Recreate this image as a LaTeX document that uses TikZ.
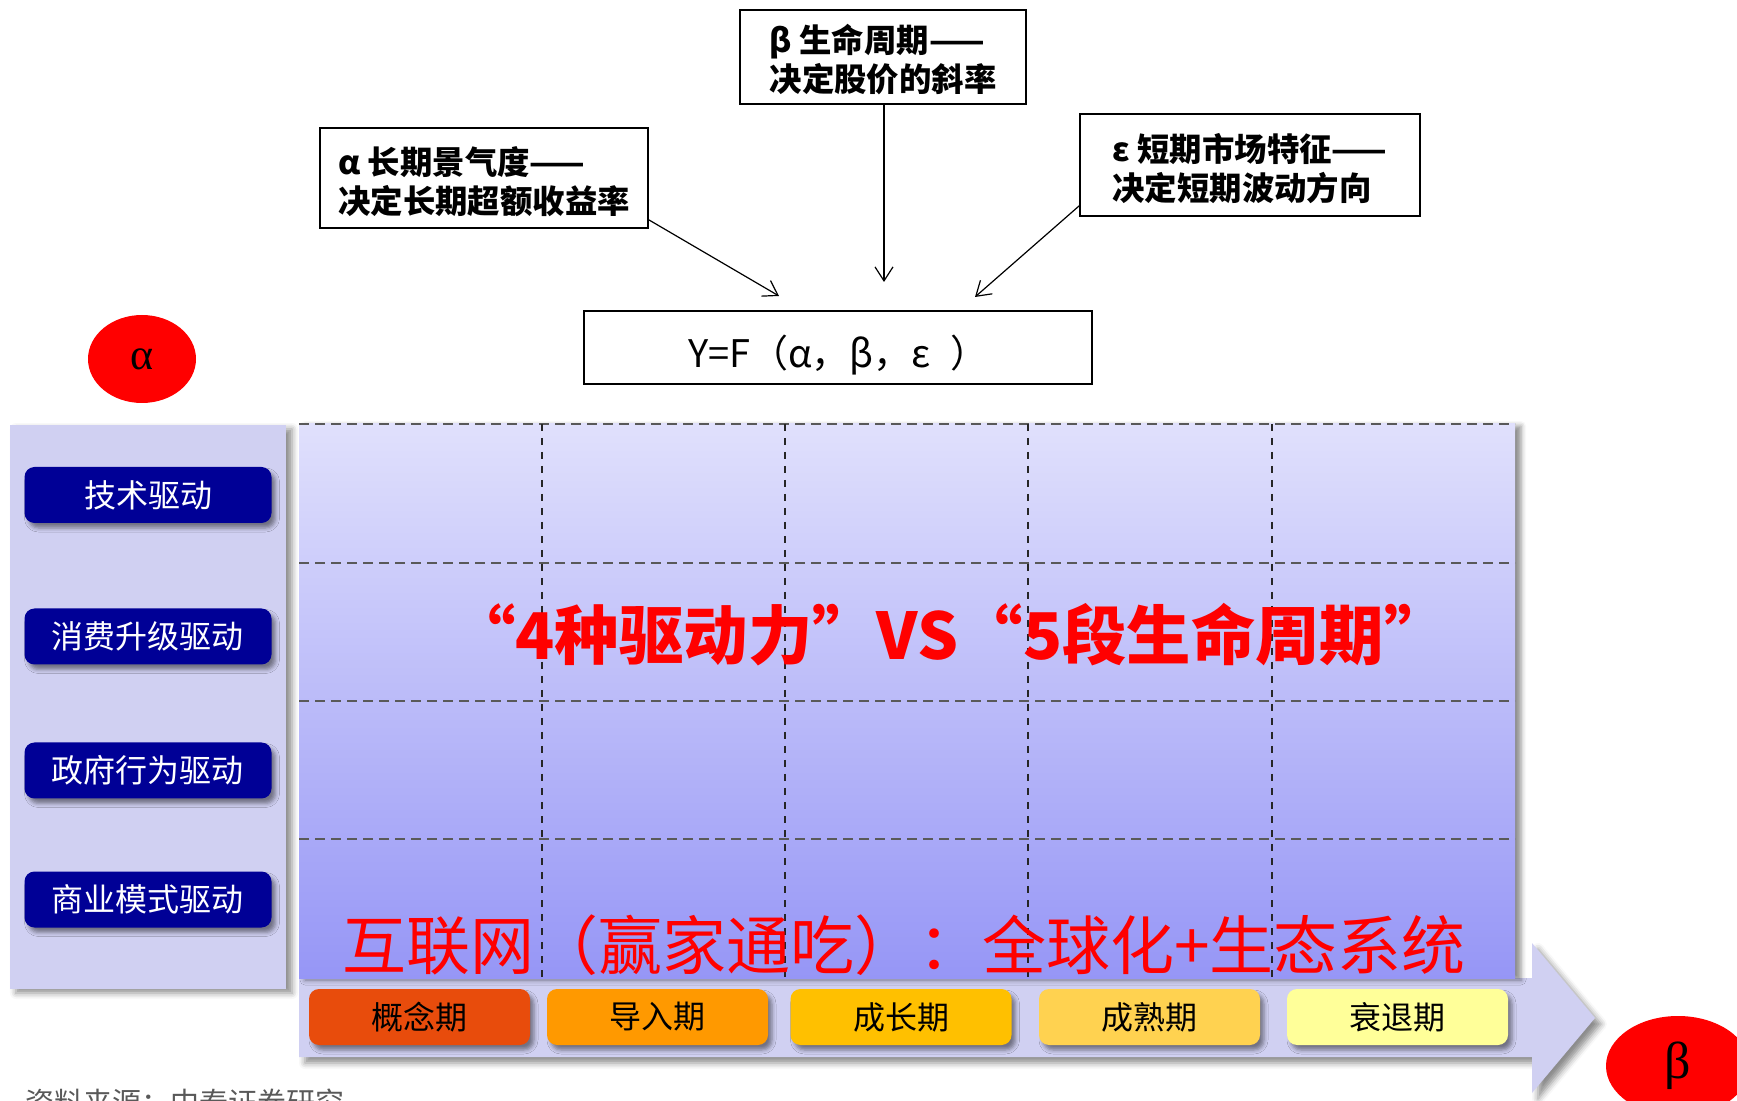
\documentclass[tikz,border=0pt]{standalone}
\usepackage{fontspec}
\setmainfont{Noto Sans CJK SC}
\newfontfamily\grkserif{Liberation Serif}
\usetikzlibrary{shapes.geometric,arrows.meta,shadows.blur}
\definecolor{panel}{RGB}{208,208,242}
\definecolor{gridtop}{RGB}{224,224,252}
\definecolor{gridbot}{RGB}{150,150,246}
\definecolor{btn}{RGB}{0,0,150}
\definecolor{st1}{RGB}{232,76,12}
\definecolor{st2}{RGB}{255,153,0}
\definecolor{st3}{RGB}{255,192,0}
\definecolor{st4}{RGB}{255,210,80}
\definecolor{st5}{RGB}{255,255,153}
\definecolor{hred}{RGB}{255,0,0}
\newcommand{\lowln}[2]{\raisebox{-#1}[14.3pt][1.9pt]{#2}}
\begin{document}
\begin{tikzpicture}[x=0.5pt,y=-0.5pt,
  topbox/.style={draw=black, line width=0.9pt, fill=white, inner sep=0pt, align=left,
    font=\bfseries\fontsize{16.2}{19.5}\selectfont},
  conn/.style={line width=0.6pt, -{Straight Barb[length=7pt,width=9pt]}},
  redell/.style={ellipse, fill=hred, inner sep=0pt},
  drvbtn/.style={fill=btn, rounded corners=5pt, minimum width=123.5pt, minimum height=28pt,
    inner sep=0pt, text=white, font=\fontsize{16}{18}\selectfont,
    blur shadow={shadow xshift=2pt, shadow yshift=-2.5pt, shadow blur radius=2pt, shadow opacity=45}},
  stagebox/.style={rounded corners=5pt, minimum width=110.5pt, minimum height=28pt,
    inner sep=0pt, text=black, font=\fontsize{16}{18}\selectfont,
    blur shadow={shadow xshift=2pt, shadow yshift=-2.5pt, shadow blur radius=2pt, shadow opacity=45}},
  hdash/.style={draw=black!65, line width=1.4pt, dash pattern=on 5pt off 3pt},
  vdash/.style={draw=black!85, line width=1pt, dash pattern=on 3.5pt off 3.5pt},
  bigred/.style={text=hred, inner sep=0pt}
]
\useasboundingbox (0,0) rectangle (1737,1101);
\begin{scope}
\clip (0,0) rectangle (1737,1101);

% top boxes
\node[topbox, minimum width=164pt, minimum height=50pt] (abox) at (484,178)
  {\lowln{2pt}{α 长期景气度——}\\\lowln{2pt}{决定长期超额收益率}};
\node[topbox, minimum width=143pt, minimum height=47pt] (bbox) at (883,57)
  {\lowln{1.5pt}{β 生命周期——}\\\lowln{1.5pt}{决定股价的斜率}};
\node[topbox, minimum width=170pt, minimum height=51pt] (ebox) at (1250,165)
  {\lowln{2pt}{ε 短期市场特征——}\\\lowln{2pt}{决定短期波动方向}};
\node[draw=black, line width=0.9pt, fill=white, inner sep=0pt, minimum width=254pt,
  minimum height=36.5pt, font=\fontsize{19}{22}\selectfont] (yf) at (838,347.5)
  {\raisebox{-3pt}[16.7pt][2.3pt]{Y=F（α，β，ε\enspace）}};

\coordinate (aend) at (779,296);
\coordinate (bend) at (884,282);
\coordinate (eend) at (975,297);
\draw[conn] ([yshift=4.5pt]abox.south east) -- (aend);
\draw[conn] (bbox.south -| bend) -- (bend);
\draw[conn] ([yshift=5.5pt]ebox.south west) -- (eend);

% alpha / beta ellipses
\node[redell, minimum width=54pt, minimum height=44pt, font=\grkserif\fontsize{22}{24}\selectfont] (alph) at (142,359) {α};
\node[redell, minimum width=72pt, minimum height=50pt, font=\grkserif\fontsize{26}{30}\selectfont] (bet) at (1678,1066) {β};

% left panel
\fill[panel, blur shadow={shadow xshift=3pt, shadow yshift=-2pt, shadow blur radius=3pt, shadow opacity=45}]
  (10,425) rectangle (286,989);
\node[drvbtn] (d1) at (148,495) {技术驱动};
\node[drvbtn] (d2) at (148,636.5) {消费升级驱动};
\node[drvbtn] (d3) at (148,770.5) {政府行为驱动};
\node[drvbtn] (d4) at (148,899.5) {商业模式驱动};

% big arrow
\fill[panel, blur shadow={shadow xshift=3pt, shadow yshift=-3pt, shadow blur radius=3pt, shadow opacity=45}]
  (299,978) -- (1532,978) -- (1532,943) -- (1595,1018) -- (1532,1093) -- (1532,1057) -- (299,1057) -- cycle;

% grid
\fill[top color=gridtop, bottom color=gridbot,
  blur shadow={shadow xshift=3pt, shadow yshift=-1pt, shadow blur radius=2.5pt, shadow opacity=45}]
  (299,424) rectangle (1515,978);
\foreach \yy in {424,563,701,839} \draw[hdash] (299,\yy) -- (1515,\yy);
\foreach \xx in {542,785,1028,1272} \draw[vdash] (\xx,424) -- (\xx,978);

% stages
\node[stagebox, fill=st1] (s1) at (419.5,1017) {概念期};
\node[stagebox, fill=st2] (s2) at (657.5,1017) {导入期};
\node[stagebox, fill=st3] (s3) at (901,1017) {成长期};
\node[stagebox, fill=st4] (s4) at (1149.5,1017) {成熟期};
\node[stagebox, fill=st5] (s5) at (1397.5,1017) {衰退期};

% red texts
\node[bigred, font=\bfseries\fontsize{32.2}{36}\selectfont] (t1) at (950,635) {“4种驱动力”VS“5段生命周期”};
\node[bigred, font=\fontsize{32}{36}\selectfont] (t2) at (904,945) {互联网（赢家通吃）：全球化+生态系统};

% source (cut off at the lower edge, as in the original)
\node[anchor=base west, inner sep=0pt, text=black!65, font=\fontsize{14.5}{17}\selectfont] (src) at (25,1113) {资料来源：中泰证券研究};
\end{scope}
\end{tikzpicture}
\end{document}
